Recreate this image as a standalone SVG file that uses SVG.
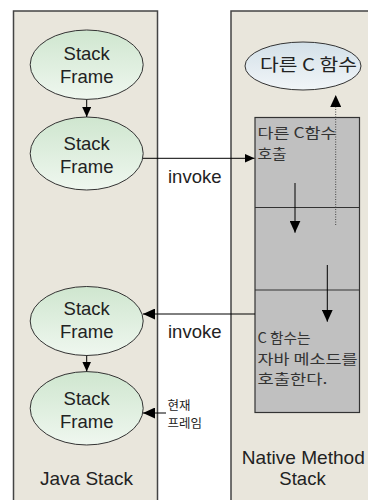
<svg xmlns="http://www.w3.org/2000/svg" width="368" height="500" viewBox="0 0 368 500">
<defs>
<linearGradient id="gGreen" x1="0" y1="0" x2="0" y2="1">
<stop offset="0" stop-color="#cfe6cf"/>
<stop offset="1" stop-color="#eff7ef"/>
</linearGradient>
<linearGradient id="gBlue" x1="0" y1="0" x2="0" y2="1">
<stop offset="0" stop-color="#d3e0e8"/>
<stop offset="1" stop-color="#f1f5f8"/>
</linearGradient>
<marker id="arr" markerUnits="userSpaceOnUse" markerWidth="11" markerHeight="9" refX="10" refY="4.5" orient="auto">
<path d="M0,0 L10,4.5 L0,9 Z" fill="#000"/>
</marker>
<marker id="arrBig" markerUnits="userSpaceOnUse" markerWidth="13" markerHeight="11" refX="12" refY="5.5" orient="auto">
<path d="M0,0 L12,5.5 L0,11 Z" fill="#000"/>
</marker>
</defs>
<style>
.panel{fill:#e9e6dc;stroke:#444;stroke-width:1.5}
.frame{fill:url(#gGreen);stroke:#333;stroke-width:1}
.lat{font-family:"Liberation Sans",Arial,sans-serif;font-size:18.5px;fill:#222}
.ko{font-family:"Noto Sans CJK KR","Noto Sans",sans-serif;fill:#222}
.box{font-family:"Noto Sans CJK KR","Noto Sans",sans-serif;font-size:14px;fill:#333}
.ln{stroke:#000;stroke-width:1;fill:none}
</style>

<g id="java-stack">
<rect class="panel" x="13.5" y="11" width="144" height="495"/>
<text class="lat" x="86.5" y="485" text-anchor="middle" textLength="93" lengthAdjust="spacingAndGlyphs">Java Stack</text>
</g>

<g id="native-stack">
<rect class="panel" x="231" y="11" width="145" height="495"/>
<text class="lat" x="303.3" y="463.5" text-anchor="middle" font-size="19" textLength="123" lengthAdjust="spacingAndGlyphs">Native Method</text>
<text class="lat" x="302.5" y="485" text-anchor="middle" font-size="19">Stack</text>
</g>

<g id="native-box">
<rect x="255" y="117.5" width="104.5" height="295" fill="#c0c0c0" stroke="#333" stroke-width="1.2"/>
<line x1="255" y1="207.5" x2="359.5" y2="207.5" stroke="#333" stroke-width="1.2"/>
<line x1="255" y1="290" x2="359.5" y2="290" stroke="#333" stroke-width="1.2"/>
<text class="box" x="257.5" y="138" textLength="79" lengthAdjust="spacingAndGlyphs">다른 C함수</text>
<text class="box" x="257.5" y="159" textLength="29" lengthAdjust="spacingAndGlyphs">호출</text>
<text class="box" x="257.5" y="343" textLength="53" lengthAdjust="spacingAndGlyphs">C 함수는</text>
<text class="box" x="257.5" y="364" textLength="100" lengthAdjust="spacingAndGlyphs">자바 메소드를</text>
<text class="box" x="257.5" y="384" textLength="70" lengthAdjust="spacingAndGlyphs">호출한다.</text>
</g>

<g id="other-c">
<ellipse cx="303" cy="66" rx="58" ry="24" fill="url(#gBlue)" stroke="#333" stroke-width="1"/>
<text class="ko" x="260" y="71" font-size="17" textLength="97" lengthAdjust="spacingAndGlyphs">다른 C 함수</text>
</g>

<g id="sf1">
<ellipse class="frame" cx="86.7" cy="64.7" rx="56.5" ry="34.7"/>
<text class="lat" x="86.7" y="60" text-anchor="middle">Stack</text>
<text class="lat" x="86.7" y="83.4" text-anchor="middle">Frame</text>
</g>

<g id="sf2">
<ellipse class="frame" cx="86.7" cy="153.5" rx="56.5" ry="36.5"/>
<text class="lat" x="86.7" y="150" text-anchor="middle">Stack</text>
<text class="lat" x="86.7" y="173.4" text-anchor="middle">Frame</text>
</g>

<g id="sf3">
<ellipse class="frame" cx="86.7" cy="321" rx="56.5" ry="34.5"/>
<text class="lat" x="86.7" y="315" text-anchor="middle">Stack</text>
<text class="lat" x="86.7" y="338" text-anchor="middle">Frame</text>
</g>

<g id="sf4">
<ellipse class="frame" cx="86.7" cy="408.3" rx="56.5" ry="36.7"/>
<text class="lat" x="86.7" y="405" text-anchor="middle">Stack</text>
<text class="lat" x="86.7" y="428.4" text-anchor="middle">Frame</text>
</g>

<g id="connectors">
<line class="ln" x1="86.7" y1="99.5" x2="86.7" y2="117" marker-end="url(#arr)"/>
<line class="ln" x1="143" y1="158.3" x2="254.5" y2="158.3" marker-end="url(#arr)"/>
<text class="lat" x="168" y="182.7">invoke</text>
<line class="ln" x1="295" y1="183" x2="295" y2="232.7" marker-end="url(#arrBig)"/>
<line class="ln" x1="327.3" y1="265" x2="327.3" y2="321.7" marker-end="url(#arrBig)"/>
<line x1="335.7" y1="225" x2="335.7" y2="95" stroke="#444" stroke-width="1" stroke-dasharray="1,1.5" marker-end="url(#arrBig)"/>
<line class="ln" x1="255" y1="314" x2="143" y2="314" marker-end="url(#arrBig)"/>
<text class="lat" x="168" y="338">invoke</text>
<line class="ln" x1="86.7" y1="355.5" x2="86.7" y2="371.5" marker-end="url(#arr)"/>
<line class="ln" x1="166" y1="413" x2="143" y2="413" marker-end="url(#arrBig)"/>
<text class="ko" x="167.5" y="410" font-size="12.5">현재</text>
<text class="ko" x="167.5" y="428" font-size="12.5">프레임</text>
</g>
</svg>
